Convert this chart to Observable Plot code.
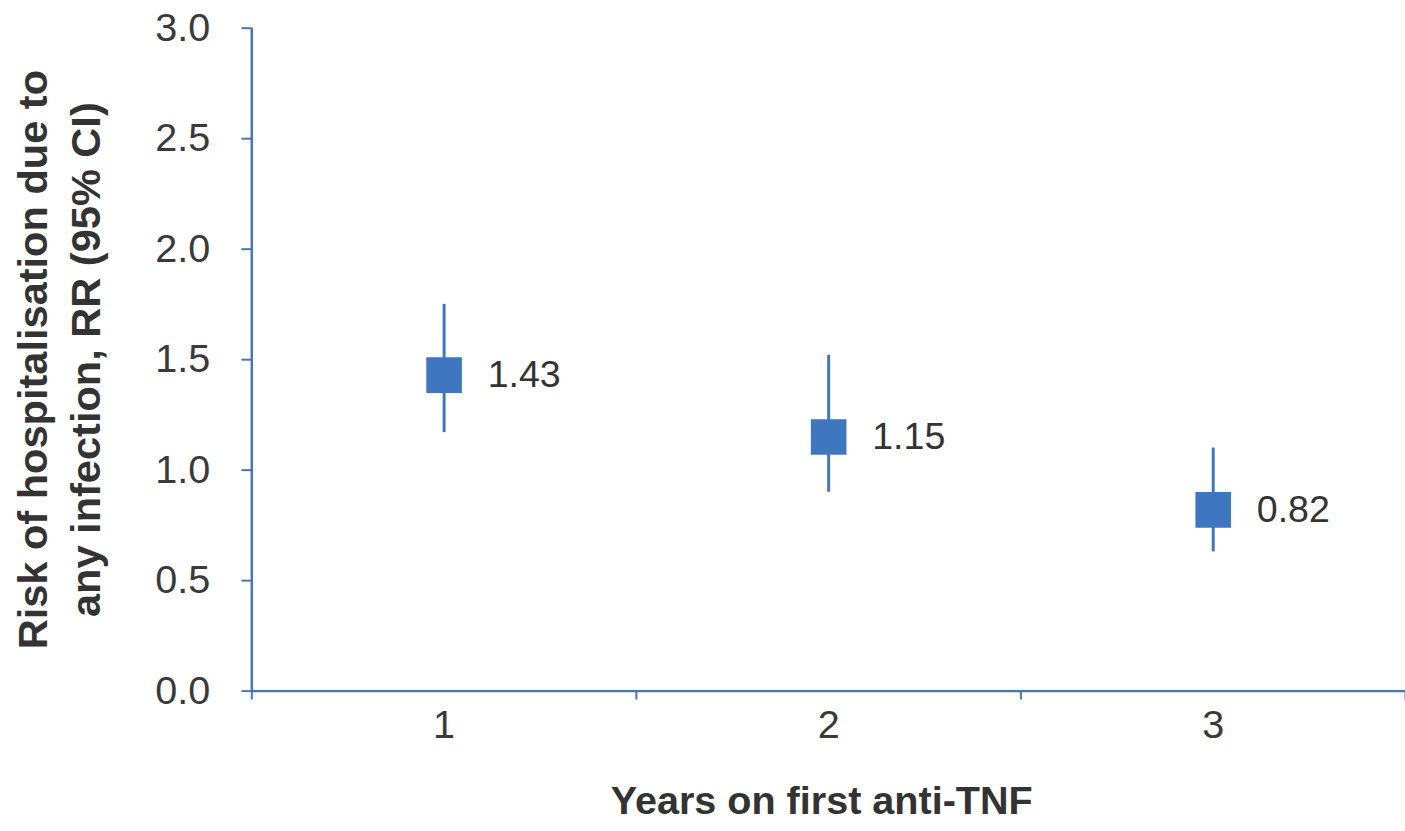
<!DOCTYPE html>
<html>
<head>
<meta charset="utf-8">
<script src="https://cdn.jsdelivr.net/npm/d3@7"></script>
<script src="https://cdn.jsdelivr.net/npm/@observablehq/plot@0.6"></script>
<style>
  html, body { margin: 0; padding: 0; background: #fff; overflow: hidden; }
  #chart { width: 1405px; height: 831px; overflow: hidden; }
</style>
</head>
<body>
<div id="chart"></div>
<script>
// Relative risk of hospitalisation due to any infection, by year on first anti-TNF
const years = [1, 2, 3];
const rr = [1.43, 1.15, 0.82];
const ciLow = [1.17, 0.90, 0.63];
const ciHigh = [1.75, 1.52, 1.10];
const yTicks = [0, 0.5, 1.0, 1.5, 2.0, 2.5, 3.0];

const xTitle = "Years on first anti-TNF";
const yTitle = "Risk of hospitalisation due to\nany infection, RR (95% CI)";

const rows = years.map((year, i) => ({year, rr: rr[i], lo: ciLow[i], hi: ciHigh[i]}));
// category boundaries sit halfway between consecutive years
const boundaries = [years[0] - 0.5, ...years.map((y) => y + 0.5)];

const blue = "#3f76c0";
const axisBlue = "#4a74b4";
const font = "'Liberation Sans', Arial, sans-serif";

const chart = Plot.plot({
  width: 1420,
  height: 831,
  marginTop: 28,
  marginBottom: 133,
  marginLeft: 254,
  marginRight: 0,
  style: {fontFamily: font, background: "#fff", color: "#333"},
  x: {domain: [boundaries[0], boundaries[boundaries.length - 1]]},
  y: {domain: [0, 3]},
  marks: [
    // axis lines
    Plot.ruleY([0], {stroke: axisBlue, strokeWidth: 2.5}),
    Plot.ruleX([boundaries[0]], {stroke: axisBlue, strokeWidth: 2.5}),
    // y axis ticks and labels
    Plot.axisY({
      ticks: yTicks,
      tickFormat: ".1f",
      tickSize: 10,
      tickPadding: 32,
      stroke: axisBlue,
      strokeWidth: 2,
      fill: "#3a3a3a",
      fontSize: 40,
      label: null
    }),
    // boundary ticks below the x axis
    Plot.axisX({
      ticks: boundaries,
      tickFormat: () => "",
      tickSize: 9,
      stroke: axisBlue,
      strokeWidth: 2,
      label: null
    }),
    // category labels, no ticks
    Plot.axisX({
      ticks: years,
      tickFormat: (d) => String(d),
      tickSize: 0,
      tickPadding: 19,
      fill: "#3a3a3a",
      fontSize: 40,
      label: null
    }),
    // 95% confidence intervals
    Plot.ruleX(rows, {x: "year", y1: "lo", y2: "hi", stroke: blue, strokeWidth: 3}),
    // point estimates
    Plot.dot(rows, {x: "year", y: "rr", symbol: "square", r: 20.3, fill: blue, stroke: null}),
    // value labels
    Plot.text(rows, {
      x: "year", y: "rr", text: (d) => d.rr.toFixed(2),
      textAnchor: "start", dx: 44, fontSize: 38, fill: "#333"
    }),
    // axis titles
    Plot.text([xTitle], {
      frameAnchor: "bottom", textAnchor: "middle", dx: -7, dy: 124,
      fontSize: 40, fontWeight: "bold", fill: "#333"
    }),
    Plot.text([yTitle], {
      frameAnchor: "left", textAnchor: "middle", dx: -197, rotate: -90, lineHeight: 1.26,
      fontSize: 42, fontWeight: "bold", fill: "#333"
    })
  ]
});

document.getElementById("chart").appendChild(chart);
</script>
</body>
</html>
